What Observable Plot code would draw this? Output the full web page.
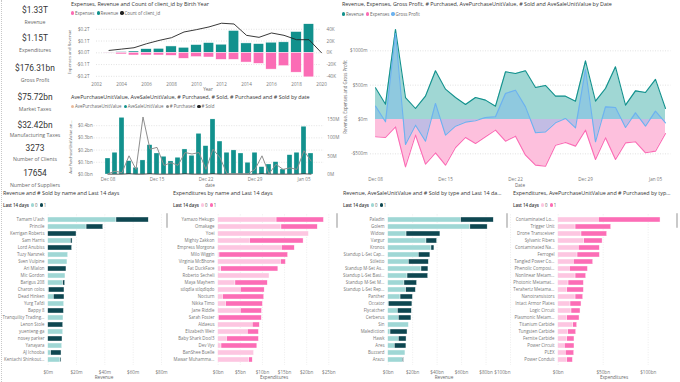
<!DOCTYPE html>
<html><head><meta charset="utf-8">
<script src="https://cdn.jsdelivr.net/npm/d3@7"></script>
<script src="https://cdn.jsdelivr.net/npm/@observablehq/plot@0.6"></script>
<style>
html,body{margin:0;padding:0;background:#fff;}
#root{position:relative;width:680px;height:382px;overflow:hidden;font-family:'Open Sans',sans-serif;background:#fff;}
.t{position:absolute;white-space:nowrap;line-height:1;}
.lg{position:absolute;display:flex;align-items:center;white-space:nowrap;color:#666;line-height:1;}
.lg .m{display:inline-block;border-radius:50%;}
#root svg{position:absolute;overflow:visible;}
</style></head><body><div id="root"></div><script>
// ---------------- DATA ----------------
const kpiValues = ["$1.33T", "$1.15T", "$176.31bn", "$75.72bn", "$32.42bn", "3273", "17654"];
const kpiLabels = ["Revenue", "Expenditures", "Gross Profit", "Market Taxes", "Manufacturing Taxes", "Number of Clients", "Number of Suppliers"];

// Birth-year chart ($T and counts)
const birthYears = [2003,2004,2005,2006,2007,2008,2009,2010,2011,2012,2013,2014,2015,2016,2017,2018,2019];
const revenueByYear = [0.002,0.006,0.011,0.031,0.034,0.054,0.043,0.066,0.083,0.069,0.186,0.080,0.074,0.086,0.089,0.177,0.243];
const expensesByYear = [-0.002,-0.014,-0.023,-0.023,-0.023,-0.026,-0.051,-0.037,-0.040,-0.060,-0.060,-0.083,-0.094,-0.143,-0.114,-0.169,-0.209];
const countYears = [2003,2004,2005,2006,2007,2008,2009,2010,2011,2012,2013,2014,2015,2016,2017,2018,2019,2020];
const clientCounts = [4000,6300,8600,15400,21000,25700,35400,39400,44000,50300,49000,29700,26300,33700,29700,22300,22300,0];
const yearTicks = [2002,2004,2006,2008,2010,2012,2014,2016,2018,2020];

// Daily data
const dayLabels = ["Dec 08","Dec 09","Dec 10","Dec 11","Dec 12","Dec 13","Dec 14","Dec 15","Dec 16","Dec 17","Dec 18","Dec 19","Dec 20","Dec 21","Dec 22","Dec 23","Dec 24","Dec 25","Dec 26","Dec 27","Dec 28","Dec 29","Dec 30","Dec 31","Jan 01","Jan 02","Jan 03","Jan 04","Jan 05","Jan 06"];
const dayTicks = ["Dec 08","Dec 15","Dec 22","Dec 29","Jan 05"];
const aveSaleUnitValue = [0.131,0.178,0.464,0.109,0.055,0.115,0.240,0.172,0.145,0.107,0.137,0.205,0.153,0.333,0.232,0.451,0.270,0.178,0.197,0.172,0.096,0.178,0.060,0.082,0.101,0.041,0.158,0.178,0.391,0.172]; // $bn
const purchasedCount = [2,9,5,51,14,157,69,74,25,32,25,60,56,60,14,69,46,2,2,2,2,14,51,2,28,14,18,14,65,37]; // M
const soldCount = [1,1,1,2,1,1,2,1,1,1,1,2,1,1,1,2,1,1,1,1,1,1,2,1,1,1,1,1,2,1]; // M
const dailyRevenue = [461,223,1311,320,160,340,709,441,320,218,320,282,194,694,670,709,466,495,340,340,267,854,267,451,767,209,417,393,583,160]; // $m
const dailyExpenses = [-252,-262,-107,-689,-228,-650,-485,-665,-408,-262,-350,-252,-155,-316,-243,-519,-665,-680,-374,-335,-388,-155,-583,-267,-583,-340,-325,-485,-461,-204];
const dailyGrossProfit = [194,-34,1252,-364,-83,-316,233,-228,-97,-39,-19,29,39,379,427,184,-194,-180,-49,15,-121,728,-325,184,175,-117,97,-97,121,-49];

// Bottom panels (Last 14 days = 0 / 1)
const sellerNames = ["Tamam U'ash","Princile","Kerrigan Roberts","Sam Harris","Lord Anubiss","Tuzy Narsnek","Sven Vulpine","Ari Mlalon","Mic Gordon","Barigus 208","Charon colos","Dead Hinken","Yurg Tafdi","Bappy 8","Tranquility Trading...","Lenon Stole","yuenteng-ga","nosey parker","Yanayara","AJ Ichooba","Kentachi Shinkout..."];
const sellerRev0 = [48.2,27.1,0,16.0,0,14.1,13.6,0,12.2,10.6,0.5,4.0,11.3,0,10.8,0,10.6,0,9.9,2.1,8.7]; // $m
const sellerRev1 = [22.8,11.8,20.0,1.2,16.9,0,0,12.9,0,1.4,11.0,7.5,0,11.1,0,10.6,0,10.1,0,7.3,0.7];
const buyerNames = ["Yamazo Hekugo","Omakage","Yoei","Mighty Zakkon","Empress Morgona","Milo Wiggin","Virginia McBhone","Fat DuckFace","Roberto Secheli","Maya Mayhem","stlqdla stlqdlqdo","Nocturn","Nikka Timo","Jane Riddle","Sarah Foster","Aldaeus","Elizabeth Weir","Baby Shark Doo!3","Dev Vyv","BanShee Buelle","Mawar Muhamma..."];
const buyerExp0 = [13.2,14.3,20.5,7.2,14.4,0.3,14.2,0.7,11.6,3.9,5.1,1.1,1.8,5.1,0.15,7.8,6.7,2.0,0.75,8.1,7.0]; // $bn
const buyerExp1 = [10.7,8.2,0,12.1,2.9,15.5,1.1,12.9,0,7.3,5.4,9.3,8.3,4.8,9.7,1.6,2.5,7.2,8.1,0,0.8];
const saleTypes = ["Paladin","Golem","Widow","Vargur","Kronos","Standup L-Set Cap...","Stiletto","Standup M-Set As...","Standup L-Set Basi...","Standup M-Set M...","Standup L-Set Rep...","Panther","Occator","Flycatcher","Cerberus","Sin","Malediction","Hawk","Ares","Buzzard","Arazu"];
const typeRev0 = [59.6,67.2,15.0,31.3,35.4,25.0,16.9,27.2,15.8,13.3,14.7,10.1,0.5,7.9,8.7,16.9,1.9,8.7,5.4,14.1,12.0]; // $bn
const typeRev1 = [26.7,14.1,27.7,8.7,2.4,9.5,16.3,5.7,16.9,10.3,7.9,10.1,19.3,11.4,10.3,0,13.9,6.3,9.5,0,0.8];
const purchaseTypes = ["Contaminated Lo...","Trigger Unit","Drone Transceiver","Sylvanic Fibers","Contaminated Na...","Ferrogel","Tangled Power Co...","Phenolic Composi...","Nonlinear Metam...","Photonic Metamat...","Terahertz Metama...","Nanotransistors","Intact Armor Plates","Logic Circuit","Plasmonic Metam...","Titanium Carbide","Tungsten Carbide","Fernite Carbide","Power Circuit","PLEX","Power Conduit"];
const typeExp0 = [45.2,19.3,25.9,28.9,22.9,21.5,17.4,13.0,19.3,11.5,10.0,19.3,13.7,14.8,10.0,16.7,11.1,10.0,7.4,8.5,10.0]; // $bn
const typeExp1 = [68.5,39.6,28.5,20.4,23.3,24.8,21.5,20.0,11.8,17.0,18.5,8.5,12.2,10.0,13.7,4.4,8.9,8.1,10.7,9.3,6.3];

// ---------------- STYLE ----------------
const TEAL = "#12918d", PINK = "#fb6cb5", BLUE = "#6cb2f0", BLACK = "#222", GRAY = "#8e8e8e", PEACH = "#e9b99a";
const TEAL_AREA = "#a0d7d4", PINK_AREA = "#fdc0dd";
const LT_TEAL = "#9fd7d5", DK_TEAL = "#0e4751", LT_PINK = "#fdc6e1", DK_PINK = "#fc6db6";
const AX = {fontSize: "4.6px", fontFamily: "'Open Sans', sans-serif", color: "#777", background: "transparent", overflow: "visible"};
const GRID = {stroke: "#cfcfcf", strokeDasharray: "1,1.5", strokeWidth: 0.6};
const TITLE = 5.4;

const root = document.getElementById("root");
function put(el, left, top) { el.style.left = left + "px"; el.style.top = top + "px"; root.append(el); return el; }
function txt(s, x, yc, size, color, anchor = "start", weight = 400, family) {
  const d = document.createElement("div");
  d.className = "t"; d.textContent = s;
  d.style.fontSize = size + "px"; d.style.color = color; d.style.fontWeight = weight;
  if (family) d.style.fontFamily = family;
  d.style.height = size + "px";
  if (anchor === "middle") d.style.transform = "translateX(-50%)";
  if (anchor === "end") d.style.transform = "translateX(-100%)";
  return put(d, x, yc - size * 0.55);
}
function vtxt(s, cx, cy, size, color) {
  const d = document.createElement("div");
  d.className = "t"; d.textContent = s;
  d.style.fontSize = size + "px"; d.style.color = color;
  d.style.transform = "translate(-50%,-50%) rotate(-90deg)";
  return put(d, cx, cy);
}
function legend(x, yc, items, size = 4.4, lead) {
  const d = document.createElement("div");
  d.className = "lg"; d.style.fontSize = size + "px"; d.style.height = size + "px";
  if (lead) { const s = document.createElement("span"); s.textContent = lead; s.style.color = "#333"; s.style.fontWeight = 600; s.style.marginRight = "2px"; d.append(s); }
  items.forEach(([label, color], i) => {
    const m = document.createElement("span"); m.className = "m";
    m.style.width = m.style.height = (size * 0.75) + "px"; m.style.background = color;
    m.style.marginLeft = (i === 0 ? 0 : 2.2) + "px"; m.style.marginRight = "0.8px";
    const s = document.createElement("span"); s.textContent = label;
    d.append(m, s);
  });
  return put(d, x, yc - size / 2);
}

// left dotted border
const bd = document.createElement("div");
bd.style.cssText = "position:absolute;width:0;height:382px;border-left:1px dotted #c8c8c8;";
put(bd, 1, 0);

// ---------------- KPI cards ----------------
const kpiPos = [[10.5, 23], [39, 51], [69, 81], [98, 110], [125.5, 136], [149, 160], [174, 185.5]];
kpiValues.forEach((v, i) => {
  txt(v, 35, kpiPos[i][0], 8.4, "#333", "middle", 400, "Roboto, sans-serif");
  txt(kpiLabels[i], 35, kpiPos[i][1], 5.2, "#666", "middle");
});

// ---------------- Birth-year chart ----------------
txt("Expenses, Revenue and Count of client_id by Birth Year", 71, 5, TITLE, "#333");
legend(71, 13, [["Expenses", PINK], ["Revenue", TEAL], ["Count of client_id", BLACK]]);
vtxt("Expenses and Revenue", 70, 52, 4.2, "#666");
txt("Year", 208, 90, 4.6, "#666", "middle");
const yearRows = birthYears.map((y, i) => ({year: y, rev: revenueByYear[i], exp: expensesByYear[i]}));
const countRows = countYears.map((y, i) => ({year: y, count: clientCounts[i]}));
const CK = 0.2 / 40000; // 40K aligned to $0.2T
const c1 = Plot.plot({
  width: 274, height: 76, marginLeft: 30, marginRight: 19, marginTop: 6.9, marginBottom: 10.3,
  style: AX,
  x: {domain: [2002, 2020], axis: null},
  y: {domain: [-0.25, 0.25], axis: null},
  marks: [
    Plot.ruleY([-0.2, -0.1, 0, 0.1, 0.2], GRID),
    Plot.rect(yearRows, {x1: d => d.year - 0.42, x2: d => d.year + 0.42, y1: 0, y2: "rev", fill: TEAL, stroke: "#fff", strokeWidth: 0.5}),
    Plot.rect(yearRows, {x1: d => d.year - 0.42, x2: d => d.year + 0.42, y1: 0, y2: "exp", fill: PINK, stroke: "#fff", strokeWidth: 0.5}),
    Plot.line(countRows, {x: "year", y: d => d.count * CK, stroke: BLACK, strokeWidth: 0.9}),
    Plot.axisX({ticks: yearTicks, tickFormat: d => String(d), tickSize: 0, tickPadding: 0.5, label: null}),
    Plot.axisY({anchor: "left", ticks: [-0.2, -0.1, 0, 0.1, 0.2], tickFormat: d => (d < 0 ? "-" : "") + "$" + Math.abs(d).toFixed(1) + "T", tickSize: 0, tickPadding: 7, label: null}),
    Plot.axisY({anchor: "right", ticks: [-0.2, -0.1, 0, 0.1, 0.2], tickFormat: d => Math.round(d / CK / 1000) + "K", tickSize: 0, tickPadding: 5, label: null})
  ]
});
put(c1, 66, 16);

// ---------------- Daily unit value chart ----------------
txt("AvePurchaseUnitValue, AveSaleUnitValue, # Purchased, # Sold, # Purchased and # Sold by date", 71, 97.5, TITLE, "#333");
legend(71, 106.5, [["AvePurchaseUnitValue", PEACH], ["AveSaleUnitValue", TEAL], ["# Purchased", GRAY], ["# Sold", BLACK]]);
vtxt("AvePurchaseUnitValue an...", 71, 147, 4.2, "#666");
txt("date", 210, 186, 4.6, "#666", "middle");
const dayRows = dayLabels.map((d, i) => ({day: d, sale: aveSaleUnitValue[i], purchased: purchasedCount[i], sold: soldCount[i]}));
const MK = 0.003; // 150M aligned to $0.45bn
const c2 = Plot.plot({
  width: 274, height: 78, marginLeft: 27.7, marginRight: 16.2, marginTop: 4, marginBottom: 16,
  style: AX,
  x: {type: "band", domain: dayLabels, paddingInner: 0.3, paddingOuter: 0.15, axis: null},
  y: {domain: [0, 0.475], axis: null},
  marks: [
    Plot.ruleY([0.1, 0.2, 0.3, 0.4], GRID),
    Plot.barY(dayRows, {x: "day", y: "sale", fill: TEAL, stroke: "#fff", strokeWidth: 0.3}),
    Plot.line(dayRows, {x: "day", y: d => d.sold * MK, stroke: BLACK, strokeWidth: 0.8}),
    Plot.line(dayRows, {x: "day", y: d => d.purchased * MK, stroke: GRAY, strokeWidth: 1}),
    Plot.axisX({ticks: dayTicks, tickSize: 0, tickPadding: 3.2, label: null}),
    Plot.axisY({anchor: "left", ticks: [0, 0.1, 0.2, 0.3, 0.4], tickFormat: d => "$" + d.toFixed(1) + "bn", tickSize: 0, tickPadding: 1.5, label: null}),
    Plot.axisY({anchor: "right", ticks: [0, 0.15, 0.3, 0.45], tickFormat: d => Math.round(d / MK) + "M", tickSize: 0, tickPadding: 3, label: null})
  ]
});
put(c2, 66, 112);

// ---------------- Daily revenue / expenses / profit ----------------
txt("Revenue, Expenses, Gross Profit, # Purchased, AvePurchaseUnitValue, # Sold and AveSaleUnitValue by Date", 342, 5, TITLE, "#333");
legend(342, 14, [["Revenue", TEAL], ["Expenses", PINK], ["Gross Profit", BLUE]]);
vtxt("Revenue, Expenses and Gross Profit", 345, 97, 4.4, "#666");
txt("Date", 520, 185.5, 4.6, "#666", "middle");
const finRows = dayLabels.map((d, i) => ({day: d, rev: dailyRevenue[i], exp: dailyExpenses[i], gp: dailyGrossProfit[i]}));
const c3 = Plot.plot({
  width: 345, height: 172, marginLeft: 35, marginRight: 9.6, marginTop: 4, marginBottom: 14,
  style: AX,
  x: {type: "point", domain: dayLabels, padding: 0, axis: null},
  y: {domain: [-830, 1412], axis: null},
  marks: [
    Plot.ruleY([-500, 500, 1000], GRID),
    Plot.areaY(finRows, {x: "day", y1: 0, y2: "rev", fill: TEAL_AREA}),
    Plot.areaY(finRows, {x: "day", y1: 0, y2: "exp", fill: PINK_AREA}),
    Plot.areaY(finRows, {x: "day", y1: 0, y2: "gp", fill: "#7ab7ee", fillOpacity: 0.45}),
    Plot.line(finRows, {x: "day", y: "rev", stroke: TEAL, strokeWidth: 1.1}),
    Plot.line(finRows, {x: "day", y: "exp", stroke: PINK, strokeWidth: 1.1}),
    Plot.line(finRows, {x: "day", y: "gp", stroke: BLUE, strokeWidth: 1.1}),
    Plot.axisX({ticks: dayTicks, tickSize: 0, tickPadding: 1.2, label: null}),
    Plot.axisY({anchor: "left", ticks: [-500, 0, 500, 1000], tickFormat: d => (d < 0 ? "-" : "") + "$" + Math.abs(d) + "m", tickSize: 0, tickPadding: 3, label: null})
  ]
});
put(c3, 335, 18);

// ---------------- Bottom bar panels ----------------
function barPanel(px, title, axisTitle, names, v0, v1, light, dark, domain, mRight, ticks, fmt, lastTick) {
  txt(title, px + 3, 194, TITLE, "#333");
  legend(px + 3, 205, [["0", light], ["1", dark]], 4.4, "Last 14 days");
  const rows = [];
  names.forEach((n, i) => { rows.push({name: n, g: "0", v: v0[i]}); rows.push({name: n, g: "1", v: v1[i]}); });
  const marks = [
    Plot.ruleX(lastTick ? ticks.concat([lastTick]) : ticks, {...GRID, stroke: "#e0e0e0"}),
    Plot.barX(rows, {y: "name", x: "v", fill: d => d.g === "0" ? light : dark, stroke: "#fff", strokeWidth: 0.4}),
    Plot.axisY({tickSize: 0, tickPadding: 3.7, fontSize: 4.4, label: null}),
    Plot.axisX({ticks, tickFormat: fmt, tickSize: 0, tickPadding: 5.2, label: null})
  ];
  if (lastTick) marks.push(Plot.axisX({ticks: [lastTick], tickFormat: fmt, tickSize: 0, tickPadding: 5.2, textAnchor: "end", label: null}));
  const p = Plot.plot({
    width: 170, height: 170, marginLeft: 47.7, marginRight: mRight, marginTop: 2.4, marginBottom: 17,
    style: AX,
    color: {type: "identity"},
    x: {domain, axis: null},
    y: {type: "band", domain: names, paddingInner: 0.26, paddingOuter: 0.13, axis: null},
    marks
  });
  put(p, px, 212);
  txt(axisTitle, px + 104, 378, 4.6, "#666", "middle");
  const sb = document.createElement("div");
  sb.style.cssText = "position:absolute;width:2.6px;height:15px;border-radius:1.3px;background:#c9c9c9;";
  put(sb, px + 165.5, 213);
}
barPanel(0, "Revenue and # Sold by name and Last 14 days", "Revenue", sellerNames, sellerRev0, sellerRev1, LT_TEAL, DK_TEAL,
  [0, 80], 9, [0, 20, 40, 60, 80], d => "$" + d + "m");
barPanel(170, "Expenditures by name and Last 14 days", "Expenditures", buyerNames, buyerExp0, buyerExp1, LT_PINK, DK_PINK,
  [0, 25], 11.7, [0, 5, 10, 15, 20, 25], d => "$" + d + "bn");
barPanel(340, "Revenue, AveSaleUnitValue and # Sold by type and Last 14 da...", "Revenue", saleTypes, typeRev0, typeRev1, LT_TEAL, DK_TEAL,
  [0, 100], 0, [0, 20, 40, 60, 80], d => "$" + d + "bn", 100);
barPanel(510, "Expenditures, AvePurchaseUnitValue and # Purchased by typ...", "Expenditures", purchaseTypes, typeExp0, typeExp1, LT_PINK, DK_PINK,
  [0, 130], 5.3, [0, 50, 100], d => "$" + d + "bn");
</script></body></html>
